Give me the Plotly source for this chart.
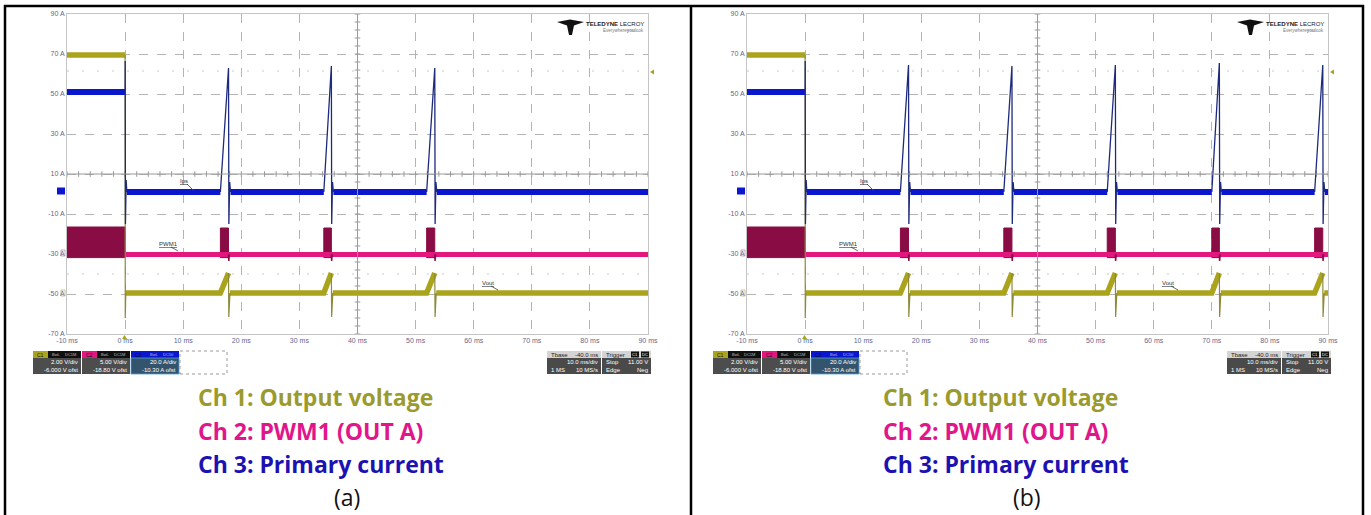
import plotly.graph_objects as go

W, H = 1371, 515

# ---------------- data (screen units: ms on x, A-scale on y) ----------------
time_range = [-10, 90]
x_ticks = [-10, 0, 10, 20, 30, 40, 50, 60, 70, 80, 90]
x_tick_text = [f"{v} ms" for v in x_ticks]
y_ticks = [90, 70, 50, 30, 10, -10, -30, -50, -70]
y_tick_text = [f"{v} A" for v in y_ticks]

ch1_before = 69.5
ch1_after = -49.5
ch1_ramp_top = -39.5
ch1_dip = -61.5
ch1_step_dip = -62.0

ch2_level = -30.2
ch2_block_top = -17.0
ch2_block_bottom = -31.8
ch2_pre_top = -16.5
ch2_dip = -33.5

ch3_before = 51.0
ch3_after = 1.0
ch3_start_peak = 66.5
ch3_undershoot = -15.0
ch3_rebound = 6.0

spike_starts_a = [16.4, 34.2, 51.9]
spike_ends_a = [17.8, 35.5, 53.3]
spike_peaks_a = [63.0, 64.0, 63.0]

spike_starts_b = [16.4, 34.2, 52.0, 70.0, 87.7]
spike_ends_b = [17.8, 35.6, 53.4, 71.3, 89.1]
spike_peaks_b = [64.5, 64.0, 64.5, 65.5, 64.5]

ref_line_levels = [61.5, -40.0]

caption_lines = ["Ch 1: Output voltage", "Ch 2: PWM1 (OUT A)", "Ch 3: Primary current"]
panel_labels = ["(a)", "(b)"]
ch_names = ["C1", "C2", "C3"]
ch_badges = [["BwL", "DC1M"], ["BwL", "DC1M"], ["BwL", "DC50"]]
ch_scales = ["2.00 V/div", "5.00 V/div", "20.0 A/div"]
ch_offsets = ["-6.000 V ofst", "-18.80 V ofst", "-10.30 A ofst"]
tbase_lines = [["Tbase", "-40.0 ms"], ["", "10.0 ms/div"], ["1 MS", "10 MS/s"]]
trig_lines = [["Trigger", ""], ["Stop", "11.00 V"], ["Edge", "Neg"]]
trace_labels = ["Ips", "PWM1", "Vout"]

# ---------------- colours ----------------
C1_COL = "#aaa31c"
C1_THIN = "#8f8a3a"
C2_COL = "#e4177f"
C2_BLOCK = "#8a0c45"
C3_COL = "#0a17cf"
C3_THIN = "#1e2a7c"
CAP1 = "#9a9a2e"
CAP2 = "#e0168a"
CAP3 = "#1c12b2"
TICK_COL = "#62668f"
SMALL_FONT = "Liberation Sans"
CAP_FONT = "Open Sans"


def px(x):
    return x / W


def py(y):
    return 1 - y / H


fig = go.Figure()
shapes = []
annotations = []


def ann(x, y, text, size, color, xanchor="center", yanchor="middle", family=SMALL_FONT):
    annotations.append(dict(x=px(x), y=py(y), xref="paper", yref="paper", text=text,
                            showarrow=False, xanchor=xanchor, yanchor=yanchor,
                            font=dict(size=size, color=color, family=family)))


def rect(x0, y0, x1, y1, fill=None, line_color=None, line_width=0, dash=None):
    ln = dict(width=line_width)
    if line_color:
        ln["color"] = line_color
    if dash:
        ln["dash"] = dash
    d = dict(type="rect", xref="paper", yref="paper", x0=px(x0), x1=px(x1), y0=py(y1), y1=py(y0), line=ln)
    if fill:
        d["fillcolor"] = fill
    shapes.append(d)


def seg(x0, y0, x1, y1, color, width):
    shapes.append(dict(type="line", xref="paper", yref="paper", x0=px(x0), y0=py(y0), x1=px(x1), y1=py(y1),
                       line=dict(color=color, width=width)))


def poly(pts, fill):
    path = "M " + " L ".join(f"{px(a):.5f},{py(b):.5f}" for a, b in pts) + " Z"
    shapes.append(dict(type="path", xref="paper", yref="paper", path=path,
                       fillcolor=fill, line=dict(width=0)))


# panel geometry (pixels)
panels = [
    dict(x0=67, x1=648, off=0, starts=spike_starts_a, ends=spike_ends_a, peaks=spike_peaks_a),
    dict(x0=747, x1=1328, off=680, starts=spike_starts_b, ends=spike_ends_b, peaks=spike_peaks_b),
]
PY0, PY1 = 14, 334

for i, p in enumerate(panels):
    xa = "x" if i == 0 else f"x{i+1}"
    ya = "y" if i == 0 else f"y{i+1}"
    starts, ends, peaks = p["starts"], p["ends"], p["peaks"]
    tmax = time_range[1]
    off = p["off"]

    # reference dotted lines
    for lv in ref_line_levels:
        fig.add_trace(go.Scatter(x=time_range, y=[lv, lv], mode="lines", xaxis=xa, yaxis=ya,
                                 line=dict(color="#c9c9c9", width=1, dash="2px,13px"),
                                 hoverinfo="skip", showlegend=False))
    # center solid lines with minor ticks
    shapes.append(dict(type="line", xref=xa, yref=ya, x0=40, x1=40, y0=-70, y1=90,
                       line=dict(color="#9a9a9a", width=1)))
    shapes.append(dict(type="line", xref=xa, yref=ya, x0=-10, x1=90, y0=10, y1=10,
                       line=dict(color="#9a9a9a", width=1)))
    mx = [-10 + 2 * k for k in range(51)]
    fig.add_trace(go.Scatter(x=mx, y=[10] * len(mx), mode="markers", xaxis=xa, yaxis=ya,
                             marker=dict(symbol="line-ns-open", size=4, color="#9a9a9a", line=dict(width=1)),
                             hoverinfo="skip", showlegend=False))
    my = [-70 + 4 * k for k in range(41)]
    fig.add_trace(go.Scatter(x=[40] * len(my), y=my, mode="markers", xaxis=xa, yaxis=ya,
                             marker=dict(symbol="line-ew-open", size=4, color="#9a9a9a", line=dict(width=1)),
                             hoverinfo="skip", showlegend=False))

    # ---- Ch2 PWM blocks (filled) ----
    bx, by = [], []
    bx += [time_range[0], time_range[0], 0, 0, time_range[0], None]
    by += [ch2_block_bottom, ch2_pre_top, ch2_pre_top, ch2_block_bottom, ch2_block_bottom, None]
    for s, e in zip(starts, ends):
        bx += [s, s, e, e, s, None]
        by += [ch2_block_bottom, ch2_block_top, ch2_block_top, ch2_block_bottom, ch2_block_bottom, None]
    fig.add_trace(go.Scatter(x=bx, y=by, mode="lines", fill="toself", fillcolor=C2_BLOCK,
                             line=dict(color=C2_BLOCK, width=1), xaxis=xa, yaxis=ya,
                             hoverinfo="skip", showlegend=False))
    # Ch2 band
    fig.add_trace(go.Scatter(x=[0, tmax], y=[ch2_level, ch2_level], mode="lines", xaxis=xa, yaxis=ya,
                             line=dict(color=C2_COL, width=5), hoverinfo="skip", showlegend=False))
    dx, dy = [], []
    for e in ends:
        dx += [e, e + 0.05, e + 0.15, None]
        dy += [ch2_level, ch2_dip, ch2_level, None]
    fig.add_trace(go.Scatter(x=dx, y=dy, mode="lines", xaxis=xa, yaxis=ya,
                             line=dict(color=C2_BLOCK, width=1.5), hoverinfo="skip", showlegend=False))

    # ---- Ch1 output voltage ----
    t1x = [time_range[0], 0, None]
    t1y = [ch1_before, ch1_before, None]
    prev = 0.1
    for s, e in zip(starts, ends):
        t1x += [prev, s, e, None]
        t1y += [ch1_after, ch1_after, ch1_ramp_top, None]
        prev = e + 0.25
    if prev < tmax:
        t1x += [prev, tmax]
        t1y += [ch1_after, ch1_after]
    fig.add_trace(go.Scatter(x=t1x, y=t1y, mode="lines", xaxis=xa, yaxis=ya,
                             line=dict(color=C1_COL, width=5.5), hoverinfo="skip", showlegend=False))
    th1x = [0, 0.03, 0.12, None]
    th1y = [ch1_before, ch1_step_dip, ch1_after, None]
    for e in ends:
        th1x += [e, e + 0.05, e + 0.25, None]
        th1y += [ch1_ramp_top, ch1_dip, ch1_after, None]
    fig.add_trace(go.Scatter(x=th1x, y=th1y, mode="lines", xaxis=xa, yaxis=ya,
                             line=dict(color=C1_THIN, width=1.2), hoverinfo="skip", showlegend=False))

    # ---- Ch3 primary current ----
    t3x = [time_range[0], 0, None]
    t3y = [ch3_before, ch3_before, None]
    prev = 0.3
    for s, e in zip(starts, ends):
        t3x += [prev, s, None]
        t3y += [ch3_after, ch3_after, None]
        prev = e + 0.35
    if prev < tmax:
        t3x += [prev, tmax]
        t3y += [ch3_after, ch3_after]
    fig.add_trace(go.Scatter(x=t3x, y=t3y, mode="lines", xaxis=xa, yaxis=ya,
                             line=dict(color=C3_COL, width=6), hoverinfo="skip", showlegend=False))
    th3x = [0, 0.02, 0.06, 0.18, 0.3, None]
    th3y = [ch3_before, ch3_start_peak, ch3_undershoot, ch3_rebound + 1, ch3_after, None]
    for s, e, pk in zip(starts, ends, peaks):
        th3x += [s, e, e + 0.06, e + 0.2, e + 0.35, None]
        th3y += [ch3_after, pk, ch3_undershoot, ch3_rebound, ch3_after, None]
    fig.add_trace(go.Scatter(x=th3x, y=th3y, mode="lines", xaxis=xa, yaxis=ya,
                             line=dict(color=C3_THIN, width=1.3), hoverinfo="skip", showlegend=False))

    # channel markers on the left edge
    rect(57 + off, 187.5, 65 + off, 194.5, fill=C3_COL)
    rect(61 + off, 250, 65 + off, 256, line_color="#b07090", line_width=0.6)
    rect(61 + off, 290, 65 + off, 296, line_color="#a8a060", line_width=0.6)
    # trigger level / position markers
    poly([(654 + off, 69.5), (654 + off, 74.5), (650 + off, 72)], C1_COL)
    poly([(122 + off, 339), (127 + off, 339), (124.5 + off, 335)], C1_COL)

    # trace labels with leader lines
    for lbl, (lx, ly, ex, ey) in zip(trace_labels, [(184, 181, 194, 191), (168, 244, 178, 251),
                                                    (488, 283, 498, 290)]):
        ann(lx + off, ly, f"<u>{lbl}</u>", 6, "#333333")
        seg(lx + 3 + off, ly + 3, ex + off, ey, "#444444", 0.8)

    # Teledyne LeCroy logo
    lx0 = 557 + off
    poly([(lx0, 22), (lx0 + 13, 19.5), (lx0 + 27, 22), (lx0 + 17, 25.5), (lx0 + 15, 35),
          (lx0 + 12, 35), (lx0 + 10, 25.5)], "#111111")
    ann(646 + off, 24, "<b>TELEDYNE</b> LECROY", 6, "#222222", xanchor="right")
    ann(646 + off, 30.5, "Everywhere<b>you</b>look", 4.5, "#777777", xanchor="right")

    # channel info boxes (bottom left)
    head_cols = [C1_COL, C2_COL, C3_COL]
    low_cols = ["#4d4d4d", "#4d4d4d", "#34546e"]
    for k in range(3):
        bx0 = 33 + 49 * k + off
        bx1 = bx0 + 48
        rect(bx0, 351, bx1, 358, fill="#111111")
        rect(bx0, 351, bx0 + (48 if k == 2 else 15), 358, fill=head_cols[k])
        rect(bx0, 358, bx1, 374, fill=low_cols[k], line_color="#4aa0e0", line_width=(0.8 if k == 2 else 0))
        ann(bx0 + 2, 354.5, ch_names[k], 5, "#111111", xanchor="left")
        for j, b in enumerate(ch_badges[k]):
            ann(bx0 + 23 + 14 * j, 354.5, b, 4, "#bbbbbb")
        ann(bx1 - 1, 362, ch_scales[k], 6, "#ffffff", xanchor="right")
        ann(bx1 - 1, 369.5, ch_offsets[k], 6, "#ffffff", xanchor="right")
    rect(180 + off, 351, 227 + off, 374, line_color="#999999", line_width=1, dash="dot")

    # timebase / trigger boxes (bottom right)
    for k, lines in enumerate([tbase_lines, trig_lines]):
        bx0 = 547 + 55 * k + off
        bx1 = bx0 + (54 if k == 0 else 49)
        rect(bx0, 351, bx1, 358, fill="#d4d4d4")
        rect(bx0, 358, bx1, 374, fill="#4a4a4a")
        for j, (lt, rt) in enumerate(lines):
            yy = [354.5, 362, 369.5][j]
            col = "#222222" if j == 0 else "#ffffff"
            if lt:
                ann(bx0 + 2, yy, lt, 6, col, xanchor="left")
            if rt:
                ann(bx1 - 1, yy, rt, 6, col, xanchor="right")
        if k == 1:
            for j, b in enumerate(["C1", "DC"]):
                rect(bx0 + 29 + 10 * j, 351.5, bx0 + 37 + 10 * j, 357.5, fill="#111111")
                ann(bx0 + 33 + 10 * j, 354.5, b, 4, "#ffffff")

    # captions
    cap_cols = [CAP1, CAP2, CAP3]
    for k, (txt, yy) in enumerate(zip(caption_lines, [397, 431, 464])):
        ann(196 + 685 * i, yy, f"<b>{txt}</b>", 23, cap_cols[k], xanchor="left", family=CAP_FONT)
    ann(347 + 680 * i, 497, panel_labels[i], 23, "#111111", family=CAP_FONT)

# outer table borders
for x0, y0, x1, y1 in [(4, 6, 1364, 6), (5, 5, 5, 515), (691, 5, 691, 515), (1363, 5, 1363, 515)]:
    seg(x0, y0, x1, y1, "#000000", 2.5)

axis_common = dict(showgrid=True, gridcolor="#b4b4b4", griddash="dash", gridwidth=1,
                   zeroline=False, showline=True, linecolor="#c4c4c4", mirror=True,
                   ticks="", tickfont=dict(size=7, color=TICK_COL, family=SMALL_FONT),
                   fixedrange=True, automargin=False, showspikes=False)

layout = dict(width=W, height=H, margin=dict(l=0, r=0, t=0, b=0, pad=0, autoexpand=False),
              template="none",
              paper_bgcolor="white", plot_bgcolor="white", showlegend=False,
              shapes=shapes, annotations=annotations)
for i, p in enumerate(panels):
    sx = "" if i == 0 else str(i + 1)
    layout[f"xaxis{sx}"] = dict(axis_common, domain=[px(p["x0"]), px(p["x1"])], range=time_range,
                                tickvals=x_ticks, ticktext=x_tick_text, anchor=f"y{sx}")
    layout[f"yaxis{sx}"] = dict(axis_common, domain=[py(PY1), py(PY0)], range=[-70, 90],
                                tickvals=y_ticks, ticktext=y_tick_text, anchor=f"x{sx}")

fig.update_layout(**layout)
fig.write_html("out.html", config={"displayModeBar": False},
               post_script="document.body.style.margin='0';")
